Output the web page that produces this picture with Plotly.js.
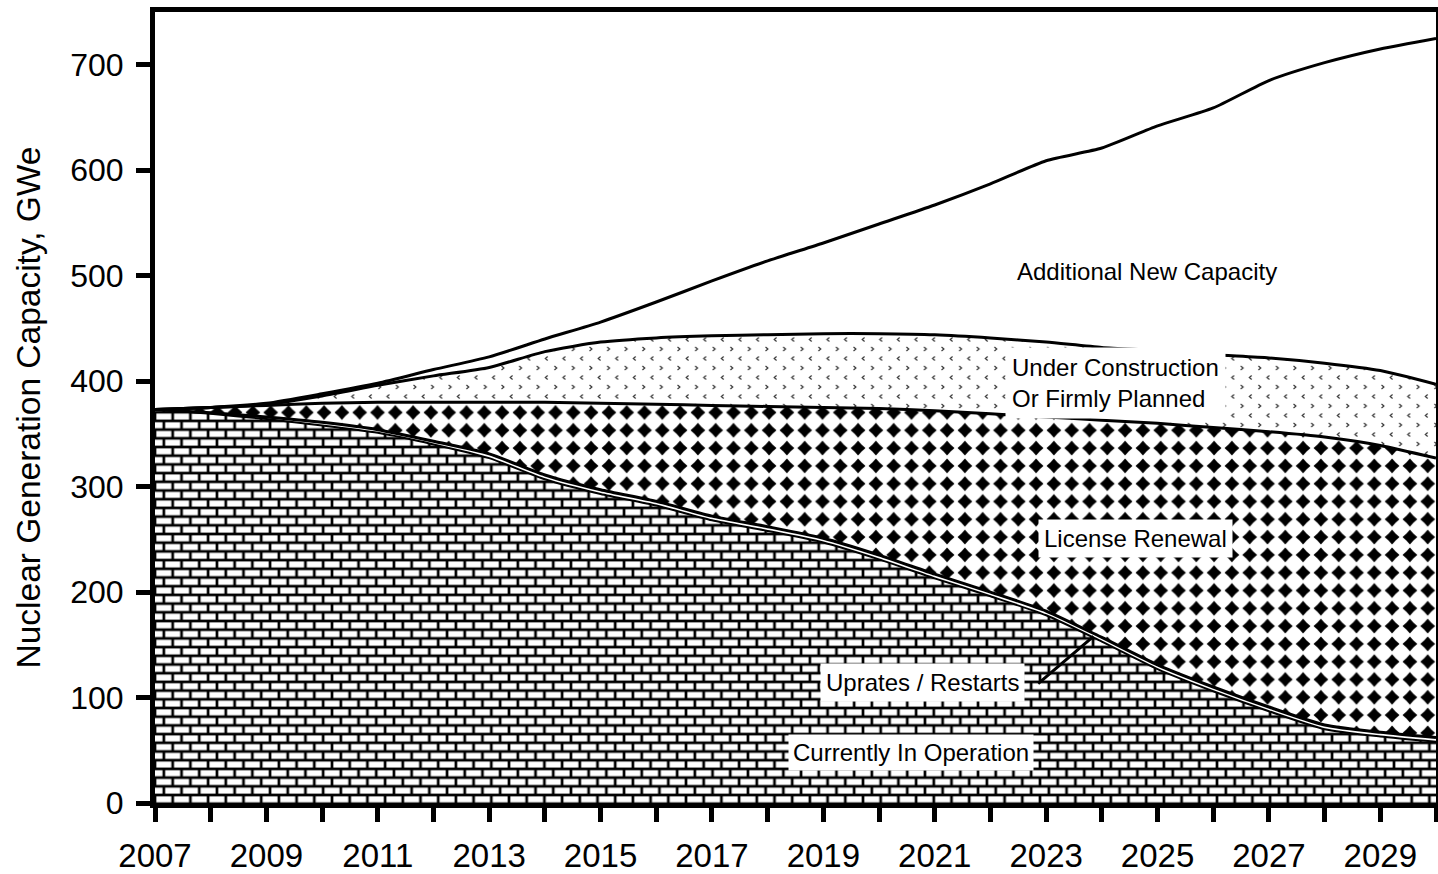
<!DOCTYPE html>
<html><head><meta charset="utf-8">
<script src="https://cdn.plot.ly/plotly-3.0.1.min.js"></script>
<style>html,body{margin:0;padding:0;background:#fff}#chart{width:1438px;height:874px}</style>
</head><body><div id="chart"></div>
<script>
const years = [2007,2008,2009,2010,2011,2012,2013,2014,2015,2016,2017,2018,2019,2020,2021,2022,2023,2024,2025,2026,2027,2028,2029,2030];
const currentlyInOperation = [373,369,364,358,351,340,327,307,293,282,268,258,247,231,213,196,178,153,127,106,87,70,63,58];
const upratesRestarts      = [0,1,2,3,3,3,4,4,4,4,4,4,4,4,4,4,4,4,4,4,4,4,4,4];
const licenseRenewal       = [0,5,11,18,26,37,49,69,82,92,105,114,124,139,155,169,184,206,229,246,261,273,272,265];
const underConstruction    = [0,0,1,7,16,25,33,48,58,63,66,68,70,71,72,72,71,69,69,69,70,70,71,70];
const additionalNewCapacity= [0,0,1,2,2,6,10,12,19,34,52,70,86,104,123,146,172,189,213,234,263,285,305,328];
const xTickLabels = ["2007","","2009","","2011","","2013","","2015","","2017","","2019","","2021","","2023","","2025","","2027","","2029",""];
const yTicks = [0,100,200,300,400,500,600,700];

const FONT = 'Arial, "Liberation Sans", sans-serif';
function layer(y, lw, fillcolor, fill){
  return {x: years, y: y, type:'scatter', mode:'lines', stackgroup:'one', fill: fill || 'tonexty',
    fillcolor: fillcolor, line:{color:'#000', width:lw, shape:'spline', smoothing:0.6},
    hoverinfo:'skip', showlegend:false};
}
const traces = [
  layer(currentlyInOperation, 2, 'rgb(254,254,254)'),
  layer(upratesRestarts, 3, 'rgb(253,253,253)'),
  layer(licenseRenewal, 3, 'rgb(252,252,252)'),
  layer(underConstruction, 3, 'rgb(251,251,251)'),
  layer(additionalNewCapacity, 3, 'rgba(0,0,0,0)', 'none')
];

const annFont = {family: FONT, size: 24, color:'#000'};
const layout = {
  width:1438, height:874,
  margin:{l:155, r:2, t:12, b:71},
  paper_bgcolor:'#fff', plot_bgcolor:'#fff',
  font:{family: FONT, color:'#000'},
  showlegend:false,
  xaxis:{range:[2007,2030], tickmode:'array', tickvals: years, ticktext: xTickLabels,
    ticks:'outside', ticklen:14, tickwidth:5, tickcolor:'#000',
    showline:true, linecolor:'#000', linewidth:5, mirror:true,
    showgrid:false, zeroline:false, ticklabelstandoff:5,
    tickfont:{family:FONT, size:33, color:'#000'}},
  yaxis:{range:[0,750], tickmode:'array', tickvals: yTicks,
    ticks:'outside', ticklen:14, tickwidth:5, tickcolor:'#000',
    showline:true, linecolor:'#000', linewidth:5, mirror:true,
    showgrid:false, zeroline:false, ticklabelstandoff:6,
    tickfont:{family:FONT, size:32, color:'#000'},
    title:{text:'Nuclear Generation Capacity, GWe', font:{family:FONT, size:33.5, color:'#000'}, standoff:21}},
  xaxis2:{overlaying:'x', anchor:'y', range:[2007,2030], tickmode:'array', tickvals: years,
    ticks:'inside', ticklen:13, tickwidth:5, tickcolor:'#000', showticklabels:false,
    showline:false, showgrid:false, zeroline:false},
  yaxis2:{overlaying:'y', anchor:'x', side:'left', range:[0,750], tickmode:'array', tickvals: yTicks,
    ticks:'inside', ticklen:10, tickwidth:5, tickcolor:'#000', showticklabels:false,
    showline:false, showgrid:false, zeroline:false},
  annotations:[
    {x:2024.81, y:504, text:'Additional New Capacity', showarrow:false, font:annFont},
    {x:2022.26, y:398, xanchor:'left', align:'left', text:'Under Construction<br>Or Firmly Planned', showarrow:false, bgcolor:'#fff', borderpad:6, font:annFont},
    {x:2024.6, y:251, text:'License Renewal', showarrow:false, bgcolor:'#fff', borderpad:5, font:annFont},
    {x:2020.78, y:114, text:'Uprates / Restarts', showarrow:false, bgcolor:'#fff', borderpad:5, font:annFont},
    {x:2020.58, y:47.5, text:'Currently In Operation', showarrow:false, bgcolor:'#fff', borderpad:4, font:annFont},
    {x:2023.85, y:158, ax:2022.83, ay:112, axref:'x', ayref:'y', text:'', showarrow:true, arrowhead:0, arrowwidth:3, arrowcolor:'#000', standoff:0, startstandoff:0}
  ]
};

function mk(tag, attrs, parent){
  const e = document.createElementNS('http://www.w3.org/2000/svg', tag);
  for (const k in attrs) e.setAttribute(k, attrs[k]);
  if (parent) parent.appendChild(e);
  return e;
}

Plotly.newPlot('chart', traces, layout, {staticPlot:true}).then(function(gd){
  const svg = gd.querySelector('svg.main-svg');
  let defs = svg.querySelector('defs');
  if (!defs) defs = mk('defs', {}, svg);
  // brick
  const pb = mk('pattern', {id:'pBrick', patternUnits:'userSpaceOnUse', width:17.7, height:17.4}, defs);
  mk('rect', {x:0, y:0, width:17.7, height:17.4, fill:'#000'}, pb);
  mk('rect', {x:1.35, y:1.35, width:15, height:6, fill:'#fff'}, pb);
  mk('rect', {x:10.2, y:10.05, width:15, height:6, fill:'#fff'}, pb);
  mk('rect', {x:-7.5, y:10.05, width:15, height:6, fill:'#fff'}, pb);
  // diamonds
  const pd = mk('pattern', {id:'pDiamond', patternUnits:'userSpaceOnUse', width:17.8, height:17.8}, defs);
  mk('rect', {x:0, y:0, width:17.8, height:17.8, fill:'#fff'}, pd);
  mk('path', {d:'M8.9,1.5 L12.4,5.4 L16.3,8.9 L12.4,12.4 L8.9,16.3 L5.4,12.4 L1.5,8.9 L5.4,5.4 Z', fill:'#000'}, pd);
  // chevrons
  const pc = mk('pattern', {id:'pChevron', patternUnits:'userSpaceOnUse', width:17.6, height:19}, defs);
  mk('rect', {x:0, y:0, width:17.6, height:19, fill:'#fff'}, pc);
  mk('path', {d:'M5.5,2.5 L3.2,4.5 L5.5,6.5', stroke:'#333', 'stroke-width':1.2, fill:'none'}, pc);
  mk('path', {d:'M12.2,12 L14.5,14 L12.2,16', stroke:'#333', 'stroke-width':1.2, fill:'none'}, pc);
  const map = {'254':'url(#pBrick)', '253':'#fff', '252':'url(#pDiamond)', '251':'url(#pChevron)'};
  gd.querySelectorAll('.scatterlayer .js-fill').forEach(function(p){
    const f = p.style.fill || p.getAttribute('fill') || '';
    const m = f.match(/rgba?\((\d+)/);
    if (m && map[m[1]]) p.style.fill = map[m[1]];
  });
});
</script>
</body></html>
